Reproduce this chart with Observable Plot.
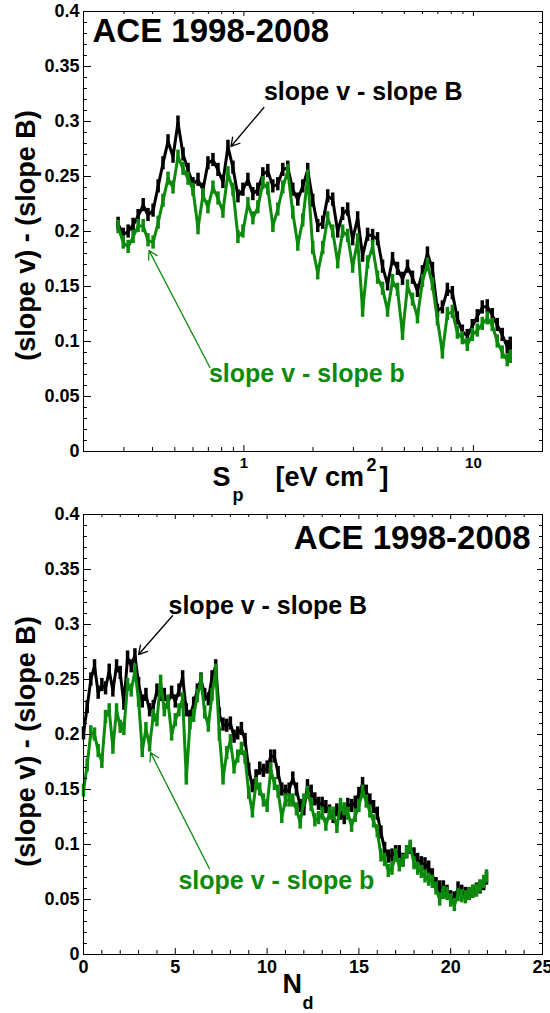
<!DOCTYPE html>
<html>
<head>
<meta charset="utf-8">
<script src="https://cdn.jsdelivr.net/npm/d3@7"></script>
<script src="https://cdn.jsdelivr.net/npm/@observablehq/plot@0.6"></script>
<style>
  html, body { margin: 0; padding: 0; background: #fff; }
  #chart svg { display: block; }
</style>
</head>
<body>
<div id="chart"></div>
<script>
// ---------- data ----------
const titleText = "ACE 1998-2008";
const yLabelText = "(slope v) - (slope B)";
const labelBlack = "slope v - slope B";
const labelGreen = "slope v - slope b";

// Top panel: x = S_p^1 [eV cm^2] (log scale)
const topX = [0.283,0.298,0.313,0.329,0.346,0.364,0.382,0.402,0.423,0.444,
  0.467,0.491,0.516,0.543,0.571,0.600,0.631,0.663,0.697,0.733,
  0.771,0.810,0.852,0.896,0.942,0.990,1.041,1.094,1.150,1.209,
  1.271,1.337,1.405,1.477,1.553,1.633,1.717,1.805,1.897,1.995,
  2.097,2.205,2.318,2.437,2.562,2.693,2.832,2.977,3.130,3.290,
  3.459,3.637,3.823,4.019,4.226,4.442,4.670,4.910,5.162,5.427,
  5.705,5.998,6.305,6.629,6.969,7.326,7.702,8.097,8.512,8.949,
  9.408,9.891,10.40,10.93,11.49,12.08,12.70,13.35,14.04,14.47];
const topBlack = [.207,.197,.200,.206,.214,.224,.215,.219,.241,.262,
  .282,.268,.299,.270,.256,.243,.247,.238,.262,.265,
  .256,.245,.277,.258,.232,.238,.247,.234,.238,.252,
  .255,.241,.243,.256,.258,.238,.229,.241,.256,.228,
  .205,.208,.232,.229,.200,.216,.220,.193,.212,.178,
  .197,.196,.193,.168,.152,.175,.166,.157,.168,.158,
  .146,.163,.180,.166,.128,.131,.147,.144,.121,.109,
  .105,.114,.123,.131,.132,.124,.115,.106,.095,.098];
const topGreen = [.204,.190,.186,.195,.205,.205,.192,.190,.208,.228,
  .248,.240,.268,.257,.248,.238,.203,.233,.222,.240,
  .230,.218,.253,.238,.195,.200,.225,.212,.222,.244,
  .239,.205,.220,.240,.255,.217,.188,.210,.250,.185,
  .162,.185,.212,.200,.172,.200,.196,.168,.192,.128,
  .172,.186,.158,.148,.128,.155,.147,.107,.150,.138,
  .122,.155,.170,.152,.120,.090,.125,.127,.108,.103,
  .097,.106,.110,.116,.121,.115,.100,.090,.083,.086];

// Bottom panel: x = N_d (linear)
const botX = [0,0.2,0.4,0.6,0.8,1.0,1.2,1.4,1.6,1.8,
  2.0,2.2,2.4,2.6,2.8,3.0,3.2,3.4,3.6,3.8,
  4.0,4.2,4.4,4.6,4.8,5.0,5.2,5.4,5.6,5.8,
  6.0,6.2,6.4,6.6,6.8,7.0,7.2,7.4,7.6,7.8,
  8.0,8.2,8.4,8.6,8.8,9.0,9.2,9.4,9.6,9.8,
  10.0,10.2,10.4,10.6,10.8,11.0,11.2,11.4,11.6,11.8,
  12.0,12.2,12.4,12.6,12.8,13.0,13.2,13.4,13.6,13.8,
  14.0,14.2,14.4,14.6,14.8,15.0,15.2,15.4,15.6,15.8,
  16.0,16.2,16.4,16.6,16.8,17.0,17.2,17.4,17.6,17.8,
  18.0,18.2,18.4,18.6,18.8,19.0,19.2,19.4,19.6,19.8,
  20.0,20.2,20.4,20.6,20.8,21.0,21.2,21.4,21.6,21.8,
  21.95];
const botBlack = [.201,.225,.250,.262,.238,.245,.242,.258,.240,.262,
  .256,.228,.270,.262,.272,.246,.230,.236,.222,.225,
  .240,.236,.236,.229,.238,.230,.240,.252,.222,.216,
  .228,.240,.250,.236,.232,.252,.262,.218,.209,.208,
  .210,.198,.201,.205,.195,.168,.153,.162,.169,.167,
  .170,.180,.180,.165,.150,.148,.150,.160,.150,.135,
  .132,.153,.148,.141,.137,.137,.134,.130,.125,.131,
  .128,.124,.136,.135,.138,.146,.155,.148,.140,.134,
  .128,.111,.096,.089,.090,.093,.093,.086,.093,.097,
  .091,.086,.083,.082,.079,.072,.064,.061,.061,.057,
  .052,.051,.060,.057,.055,.055,.057,.059,.061,.064,
  .069];
const botGreen = [.149,.172,.202,.200,.185,.175,.216,.222,.188,.222,
  .207,.205,.245,.240,.258,.231,.185,.205,.190,.217,
  .213,.248,.222,.230,.200,.213,.222,.232,.160,.210,
  .217,.235,.249,.220,.208,.236,.258,.200,.160,.183,
  .194,.170,.180,.187,.179,.147,.130,.155,.150,.140,
  .135,.168,.155,.148,.125,.140,.140,.140,.132,.120,
  .140,.147,.136,.122,.124,.128,.118,.128,.128,.116,
  .136,.132,.128,.117,.126,.135,.148,.139,.130,.121,
  .112,.090,.086,.076,.078,.090,.081,.085,.093,.098,
  .083,.078,.075,.071,.068,.066,.060,.050,.056,.055,
  .049,.045,.054,.053,.052,.055,.057,.058,.062,.066,
  .071];

// ticks
const yMajor = [0,0.05,0.1,0.15,0.2,0.25,0.3,0.35,0.4];
const yMinor = [0.01,0.02,0.03,0.04,0.06,0.07,0.08,0.09,0.11,0.12,0.13,0.14,0.16,0.17,0.18,0.19,
  0.21,0.22,0.23,0.24,0.26,0.27,0.28,0.29,0.31,0.32,0.33,0.34,0.36,0.37,0.38,0.39];
const topXMajor = [1, 10];
const topXMinor = [0.2,0.3,0.4,0.5,0.6,0.7,0.8,0.9,2,3,4,5,6,7,8,9,20];
const botXMajor = [0,5,10,15,20,25];
const botXMinor = [1,2,3,4,6,7,8,9,11,12,13,14,16,17,18,19,21,22,23,24];

// annotation anchors (data coordinates)
const topArrows = [
  {x1: 1.222, y1: 0.3127, x2: 0.878, y2: 0.2773, c: "black"},
  {x1: 0.711, y1: 0.0764, x2: 0.386, y2: 0.1827, c: "green"}
];
const topLabels = [
  {x: 1.222, y: 0.320, t: labelBlack, c: "black"},
  {x: 0.704, y: 0.0636, t: labelGreen, c: "green"}
];
const botArrows = [
  {x1: 4.85, y1: 0.308, x2: 3.0, y2: 0.2727, c: "black"},
  {x1: 6.86, y1: 0.078, x2: 3.65, y2: 0.1836, c: "green"}
];
const botLabels = [
  {x: 4.63, y: 0.310, t: labelBlack, c: "black"},
  {x: 5.17, y: 0.060, t: labelGreen, c: "green"}
];

// ---------- drawing ----------
const GREEN = "#0b8a0b";
const colorOf = c => c === "green" ? GREEN : "#000";
const FONT = "'Liberation Sans', Arial, Helvetica, sans-serif";
const W = 459, H = 440;
const SPREAD = 0.006; // half-thickness of the noisy band (drawing style)
const fmt = d => d === 0 ? "0" : String(+d.toFixed(2));

function tickMarks(xMajor, xMinor, xMajLen, xMinLen) {
  return [
    Plot.ruleY(yMajor, {y: d => d, insetRight: W - 8, stroke: "black"}),
    Plot.ruleY(yMinor, {y: d => d, insetRight: W - 4, stroke: "black"}),
    Plot.ruleY(yMajor, {y: d => d, insetLeft: W - 5, stroke: "black"}),
    Plot.ruleY(yMinor, {y: d => d, insetLeft: W - 3, stroke: "black"}),
    Plot.ruleX(xMajor, {x: d => d, insetTop: H - xMajLen, stroke: "black"}),
    Plot.ruleX(xMinor, {x: d => d, insetTop: H - xMinLen, stroke: "black"}),
    Plot.ruleX(xMajor, {x: d => d, insetBottom: H - 5, stroke: "black"}),
    Plot.ruleX(xMinor, {x: d => d, insetBottom: H - 3, stroke: "black"})
  ];
}

function series(data, key, color) {
  return [
    Plot.ruleX(data, {x: "x", y1: d => d[key] - SPREAD, y2: d => d[key] + SPREAD, stroke: color, strokeWidth: 3.5}),
    Plot.line(data, {x: "x", y: key, stroke: color, strokeWidth: 3, strokeLinejoin: "miter"})
  ];
}

const topData = topX.map((x, i) => ({x, b: topBlack[i], g: topGreen[i]}));
const botData = botX.map((x, i) => ({x, b: botBlack[i], g: botGreen[i]}));

const baseStyle = {fontFamily: FONT, fontWeight: "bold", fontSize: "18px", background: "#fff", overflow: "visible", color: "#000"};

const topPlot = Plot.plot({
  width: 550, height: 506,
  marginLeft: 83, marginRight: 8, marginTop: 11, marginBottom: 55,
  style: baseStyle,
  x: {type: "log", domain: [0.2, 20]},
  y: {domain: [0, 0.4]},
  marks: [
    ...series(topData, "b", "#000"),
    ...series(topData, "g", GREEN),
    Plot.frame({stroke: "black"}),
    ...tickMarks(topXMajor, topXMinor, 6, 4),
    Plot.axisY(yMajor, {tickSize: 0, tickPadding: 4, label: null, tickFormat: fmt, fontSize: 18, fontWeight: "bold"}),
    Plot.axisX(topXMajor, {tickSize: 0, tickPadding: 6, label: null, tickFormat: d => String(d), fontSize: 15, fontWeight: "bold"}),
    Plot.arrow(topArrows, {x1: "x1", y1: "y1", x2: "x2", y2: "y2", stroke: d => colorOf(d.c), strokeWidth: 1.3, headLength: 11}),
    Plot.text(topLabels, {x: "x", y: "y", text: "t", fill: d => colorOf(d.c), textAnchor: "start", lineAnchor: "bottom", fontSize: 25, fontWeight: "bold"}),
    Plot.text([titleText], {frameAnchor: "top-left", dx: 9, dy: 30, text: d => d, textAnchor: "start", lineAnchor: "bottom", fontSize: 33, fontWeight: "bold"}),
    Plot.text([yLabelText], {frameAnchor: "left", dx: -57, dy: 4, rotate: -90, textAnchor: "middle", lineAnchor: "middle", text: d => d, fontSize: 27, fontWeight: "bold"}),
    Plot.text(["S"], {frameAnchor: "bottom-left", dx: 129, dy: 34, text: d => d, textAnchor: "start", lineAnchor: "bottom", fontSize: 27}),
    Plot.text(["p"], {frameAnchor: "bottom-left", dx: 149, dy: 49, text: d => d, textAnchor: "start", lineAnchor: "bottom", fontSize: 18}),
    Plot.text(["[eV cm"], {frameAnchor: "bottom-left", dx: 192, dy: 34, text: d => d, textAnchor: "start", lineAnchor: "bottom", fontSize: 27}),
    Plot.text(["2"], {frameAnchor: "bottom-left", dx: 283, dy: 19, text: d => d, textAnchor: "start", lineAnchor: "bottom", fontSize: 18}),
    Plot.text(["]"], {frameAnchor: "bottom-left", dx: 296, dy: 34, text: d => d, textAnchor: "start", lineAnchor: "bottom", fontSize: 27})
  ]
});

const botPlot = Plot.plot({
  width: 550, height: 507,
  marginLeft: 83, marginRight: 8, marginTop: 8, marginBottom: 59,
  style: baseStyle,
  x: {domain: [0, 25]},
  y: {domain: [0, 0.4]},
  marks: [
    ...series(botData, "b", "#000"),
    ...series(botData, "g", GREEN),
    Plot.frame({stroke: "black"}),
    ...tickMarks(botXMajor, botXMinor, 6, 4),
    Plot.axisY(yMajor, {tickSize: 0, tickPadding: 4, label: null, tickFormat: fmt, fontSize: 18, fontWeight: "bold"}),
    Plot.axisX(botXMajor, {tickSize: 0, tickPadding: 6, label: null, tickFormat: d => String(d), fontSize: 18, fontWeight: "bold"}),
    Plot.arrow(botArrows, {x1: "x1", y1: "y1", x2: "x2", y2: "y2", stroke: d => colorOf(d.c), strokeWidth: 1.3, headLength: 11}),
    Plot.text(botLabels, {x: "x", y: "y", text: "t", fill: d => colorOf(d.c), textAnchor: "start", lineAnchor: "bottom", fontSize: 25, fontWeight: "bold"}),
    Plot.text([titleText], {frameAnchor: "top-right", dx: -12, dy: 34, text: d => d, textAnchor: "end", lineAnchor: "bottom", fontSize: 33, fontWeight: "bold"}),
    Plot.text([yLabelText], {frameAnchor: "left", dx: -57, dy: 7, rotate: -90, textAnchor: "middle", lineAnchor: "middle", text: d => d, fontSize: 27, fontWeight: "bold"}),
    Plot.text(["N"], {frameAnchor: "bottom-left", dx: 199, dy: 38, text: d => d, textAnchor: "start", lineAnchor: "bottom", fontSize: 27}),
    Plot.text(["d"], {frameAnchor: "bottom-left", dx: 219, dy: 54, text: d => d, textAnchor: "start", lineAnchor: "bottom", fontSize: 18})
  ]
});

document.getElementById("chart").append(topPlot, botPlot);
</script>
</body>
</html>
